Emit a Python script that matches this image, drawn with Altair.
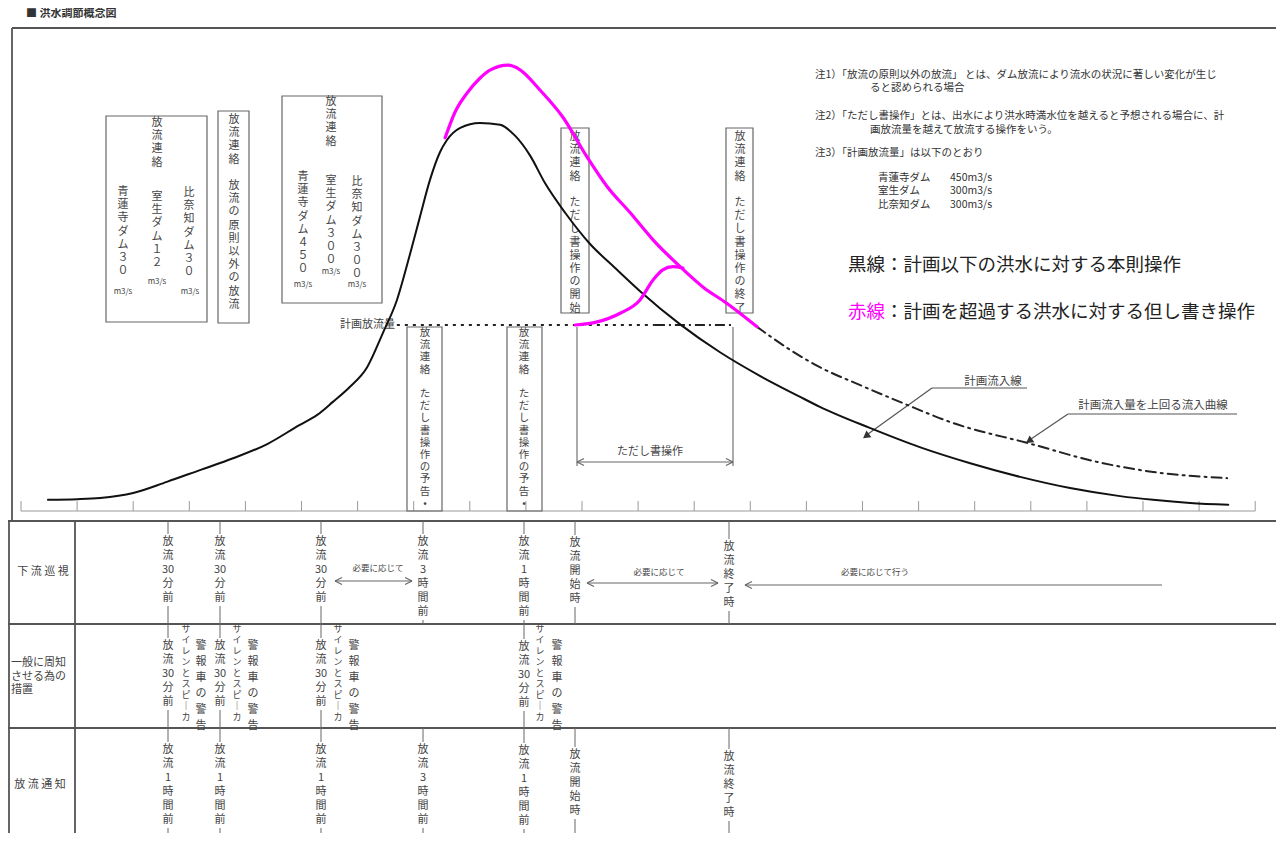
import re
import altair as alt
import pandas as pd

FONT = "Noto Sans CJK JP"
W, H = 1268, 825
INK = "#333333"
LINE = "#555555"
MAGENTA = "#ff00ff"

# ---------------- hydrograph data: time [h] and discharge [m3/s] ----------------
plan_t = [0.48, 1.0, 1.41, 2.0, 2.6, 3.19, 3.78, 4.39, 4.97, 5.28, 5.56, 5.86, 6.17, 6.45, 6.70,
          6.93, 7.11, 7.29, 7.47, 7.59, 7.83, 8.18, 8.54, 8.81, 9.07, 9.34, 9.70, 10.14, 10.59,
          11.03, 11.75, 12.46, 13.17, 13.89, 14.24, 15.13, 16.02, 16.92, 17.81, 18.70, 19.59,
          20.18, 20.84, 21.52]
plan_q = [18, 19, 21, 29, 47, 66, 85, 108, 139, 155, 176, 200, 232, 287, 340,
          413, 474, 534, 579, 598, 618, 626, 623, 605, 574, 529, 481, 431, 392,
          355, 301, 256, 218, 184, 168, 134, 103, 77, 55, 37, 24,
          18, 13, 10]
over_t = [7.56, 7.74, 7.95, 8.18, 8.36, 8.68, 8.89, 9.25, 9.66, 10.09, 10.45, 10.86, 11.27,
          11.75, 12.16, 12.58, 13.12]
over_q = [602, 644, 674, 698, 711, 719, 712, 679, 635, 571, 523, 481, 437, 394, 361, 335, 297]
ext_t = [13.12, 13.71, 14.24, 14.96, 15.72, 16.61, 17.93, 19.29, 20.18, 21.50]
ext_q = [297, 260, 232, 203, 174, 142, 110, 77, 63, 53]
hump_t = [9.88, 10.27, 10.68, 11.03, 11.27, 11.44, 11.62, 11.80]
hump_q = [300, 305, 319, 340, 373, 389, 394, 392]
plan_release_q = 300
plan_release_t = [6.70, 11.30, 12.69]  # start, dotted -> dash-dot, end
time_ticks = list(range(0, 23))

# ---------------- diagram text ----------------
title_text = "■ 洪水調節概念図"
notes = [
    (815, 75, "注1）「放流の原則以外の放流」 とは、ダム放流により流水の状況に著しい変化が生じ"),
    (870, 88, "ると認められる場合"),
    (815, 116, "注2）「ただし書操作」とは、出水により洪水時満水位を越えると予想される場合に、計"),
    (870, 130, "画放流量を越えて放流する操作をいう。"),
    (815, 153, "注3）「計画放流量」は以下のとおり"),
    (878, 178, "青蓮寺ダム"), (950, 178, "450m3/s"),
    (878, 191, "室生ダム"), (950, 191, "300m3/s"),
    (878, 205, "比奈知ダム"), (950, 205, "300m3/s"),
]
legend_black = "黒線：計画以下の洪水に対する本則操作"
legend_red_key = "赤線"
legend_red = "：計画を超過する洪水に対する但し書き操作"

boxes = [  # x, x2, y, y2
    (106, 207, 116, 322), (218, 249, 111, 323), (282, 382, 96, 303),
    (561, 589, 128, 313), (726, 753, 128, 313),
    (407, 442, 327, 511), (507, 542, 327, 511),
]
box_cols = [  # x, y of first glyph, text
    (157, 123, "放流連絡"),
    (123, 192, "青蓮寺ダム３０"),
    (157, 197, "室生ダム１２"),
    (189, 193, "比奈知ダム３０"),
    (234, 120, "放流連絡　放流の原則以外の放流"),
    (331, 102, "放流連絡"),
    (303, 177, "青蓮寺ダム４５０"),
    (331, 181, "室生ダム３００"),
    (357, 182, "比奈知ダム３００"),
    (575, 137, "放流連絡　ただし書操作の開始"),
    (740, 137, "放流連絡　ただし書操作の終了"),
]
notice_cols = [
    (425, 333, "放流連絡　ただし書操作の予告•"),
    (524, 333, "放流連絡　ただし書操作の予告•"),
]
unit_labels = [(123, 292), (157, 282), (190, 292), (303, 285), (331, 272), (357, 285)]

table_rows = [(521, 624), (624, 728), (728, 836)]
row_labels = [(43, 572, "下 流 巡 視"), (40, 785, "放 流 通 知")]
row_label_multi = (11, 663, "一般に周知\nさせる為の\n措置")
table_cells = [  # row, x, y of first glyph, text
    (0, 168, 542, "放流30分前"), (0, 220, 542, "放流30分前"), (0, 321, 542, "放流30分前"),
    (0, 423, 542, "放流3時間前"), (0, 524, 542, "放流1時間前"), (0, 575, 543, "放流開始時"),
    (0, 729, 547, "放流終了時"),
    (1, 168, 646, "放流30分前"), (1, 220, 646, "放流30分前"), (1, 321, 646, "放流30分前"),
    (1, 524, 647, "放流30分前"),
    (2, 168, 750, "放流1時間前"), (2, 220, 750, "放流1時間前"), (2, 321, 750, "放流1時間前"),
    (2, 423, 750, "放流3時間前"), (2, 524, 751, "放流1時間前"), (2, 575, 755, "放流開始時"),
    (2, 729, 757, "放流終了時"),
]
siren_cols = [(186, 629), (237, 629), (338, 629), (540, 629)]
siren_text = "サイレンとスピーカ"
warn_cols = [(201, 646), (253, 646), (354, 646), (557, 646)]
warn_text = "警報車の警告"
need_labels = [(378, 568, "必要に応じて"), (659, 572, "必要に応じて"), (875, 572, "必要に応じて行う")]

# ---------------- scales ----------------
CX = alt.Scale(domain=[8, 1276], nice=False, zero=False)
CY = alt.Scale(domain=[8, 833], reverse=True, nice=False, zero=False)
TX = alt.Scale(domain=[-0.2317, 22.3708], nice=False, zero=False)
QY = alt.Scale(domain=[-519.35, 811.29], nice=False, zero=False)


def cx(f):
    return alt.X(f"{f}:Q", scale=CX, axis=None)


def cy(f):
    return alt.Y(f"{f}:Q", scale=CY, axis=None)


def vtokens(s):
    return [("｜" if t == "ー" else t) for t in re.findall(r"[0-9]+|.", s)]


def vtext_layer(items, size, lh, color=INK):
    rows = []
    for x, y0, s in items:
        toks = vtokens(s)
        start = 0
        seg = []
        for i, tok in enumerate(toks + ["　"]):
            if tok == "　":
                if seg:
                    rows.append({"x": x, "y": y0 + start * lh, "text": "\n".join(seg)})
                seg = []
                start = i + 1
            else:
                seg.append(tok)
    return alt.Chart(pd.DataFrame(rows)).mark_text(
        font=FONT, fontSize=size, color=color, align="center", baseline="middle",
        lineBreak="\n", lineHeight=lh).encode(x=cx("x"), y=cy("y"), text="text:N")


def text_layer(items, size, color=INK, align="left", weight="normal", lh=None):
    df = pd.DataFrame(items, columns=["x", "y", "text"])
    kw = dict(font=FONT, fontSize=size, color=color, align=align, baseline="middle",
              fontWeight=weight)
    if lh:
        kw.update(lineBreak="\n", lineHeight=lh)
    return alt.Chart(df).mark_text(**kw).encode(x=cx("x"), y=cy("y"), text="text:N")


def seg_layer(segs, color, width, dash=None):
    df = pd.DataFrame(segs, columns=["x", "y", "x2", "y2"])
    kw = dict(color=color, strokeWidth=width)
    if dash:
        kw["strokeDash"] = dash
    return alt.Chart(df).mark_rule(**kw).encode(x=cx("x"), y=cy("y"), x2="x2:Q", y2="y2:Q")


def chevron(x, y, d, L=7, h=3.5):
    return [(x, y, x - d * L, y - h), (x, y, x - d * L, y + h)]


def curve(t, q, color, width, dash=None):
    df = pd.DataFrame({"t": t, "q": q})
    kw = dict(color=color, strokeWidth=width, interpolate="monotone", strokeCap="round")
    if dash:
        kw["strokeDash"] = dash
    return alt.Chart(df).mark_line(**kw).encode(
        x=alt.X("t:Q", scale=TX, axis=None), y=alt.Y("q:Q", scale=QY, axis=None))


layers = []

# frame and table lines
frame = [(12, 28, 1280, 28), (12, 28, 12, 521), (1279, 28, 1279, 838)]
for y in [521, 624, 728, 836]:
    frame.append((8, y, 1279, y))
frame += [(9, 521, 9, 836), (75, 521, 75, 836)]
layers.append(seg_layer(frame, LINE, 1.8))

# axis baseline and ticks (flow space)
tick_df = pd.DataFrame({"t": time_ticks, "q0": 0, "q1": 16})
layers.append(alt.Chart(tick_df).mark_rule(color="#999999", strokeWidth=1).encode(
    x=alt.X("t:Q", scale=TX, axis=None), y=alt.Y("q0:Q", scale=QY, axis=None), y2="q1:Q"))
base_df = pd.DataFrame({"t": [time_ticks[0]], "t2": [time_ticks[-1]], "q": [0]})
layers.append(alt.Chart(base_df).mark_rule(color="#999999", strokeWidth=1).encode(
    x=alt.X("t:Q", scale=TX, axis=None), x2="t2:Q", y=alt.Y("q:Q", scale=QY, axis=None)))

# boxes
box_df = pd.DataFrame(boxes, columns=["x", "x2", "y", "y2"])
layers.append(alt.Chart(box_df).mark_rect(fill="white", fillOpacity=0, stroke="#666666",
                                          strokeWidth=1.2).encode(
    x=cx("x"), x2="x2:Q", y=cy("y"), y2="y2:Q"))

# vertical texts in boxes
layers.append(vtext_layer(box_cols, 11, 13.2, "#444444"))
layers.append(vtext_layer(notice_cols, 10.5, 12.2, "#444444"))
layers.append(text_layer([(x, y, "m3/s") for x, y in unit_labels], 8, "#444444", "center"))

# table connectors
conn = []
for r, x, y0, s in table_cells:
    top, bot = table_rows[r]
    n = len(vtokens(s))
    conn.append((x, top, x, y0 - 8))
    conn.append((x, y0 + (n - 1) * 14 + 8, x, bot))
layers.append(seg_layer(conn, "#666666", 1))

# table texts
layers.append(vtext_layer([(x, y, s) for _, x, y, s in table_cells], 11, 14, "#444444"))
layers.append(vtext_layer([(x, y, siren_text) for x, y in siren_cols], 9, 11, "#444444"))
layers.append(vtext_layer([(x, y, warn_text) for x, y in warn_cols], 11, 16, "#444444"))
layers.append(text_layer(row_labels, 11, "#444444", "center"))
rx, ry, rt = row_label_multi
layers.append(text_layer([(rx, ry, rt)], 11, "#444444", "left", lh=13.5))
layers.append(text_layer(need_labels, 8.5, "#444444", "center"))

# arrows in table and bracket
arrows = [(335, 581, 412, 581)] + chevron(335, 581, -1) + chevron(412, 581, 1)
arrows += [(587, 583, 718, 583)] + chevron(587, 583, -1) + chevron(718, 583, 1)
arrows += [(745, 585, 1162, 585)] + chevron(745, 585, -1)
arrows += [(577, 327, 577, 466), (733, 327, 733, 466), (577, 462, 733, 462)]
arrows += chevron(577, 462, -1) + chevron(733, 462, 1)
layers.append(seg_layer(arrows, "#666666", 1.1))
layers.append(text_layer([(650, 452, "ただし書操作")], 11, "#444444", "center"))
layers.append(text_layer([(395, 325, "計画放流量")], 11, "#444444", "right"))

# leader lines for curve labels
leaders = [(932, 388, 1027, 388), (932, 388, 868, 434), (1068, 414, 1237, 414), (1068, 414, 1031, 439)]
layers.append(seg_layer(leaders, "#555555", 1.2))
head_df = pd.DataFrame({"x": [866, 1029], "y": [436, 441], "a": [234, 235]})
layers.append(alt.Chart(head_df).mark_point(shape="triangle-up", filled=True, size=70,
                                            color="#333333", opacity=1).encode(
    x=cx("x"), y=cy("y"), angle=alt.Angle("a:Q", scale=None)))
layers.append(text_layer([(993, 382, "計画流入線"), (1153, 406, "計画流入量を上回る流入曲線")],
                         11.5, "#444444", "center"))

# notes and legend
layers.append(text_layer([(26, 14, title_text)], 11, INK, "left", "bold"))
layers.append(text_layer(notes, 10.5, INK, "left"))
layers.append(text_layer([(848, 265, legend_black), (885, 312, legend_red)], 18.5, "#222222", "left"))
layers.append(text_layer([(848, 312, legend_red_key)], 18.5, MAGENTA, "left"))

# curves
pr_df = pd.DataFrame({"t": [plan_release_t[0]], "t2": [plan_release_t[1]], "q": [plan_release_q]})
layers.append(alt.Chart(pr_df).mark_rule(color="#222222", strokeWidth=2, strokeDash=[3, 5]).encode(
    x=alt.X("t:Q", scale=TX, axis=None), x2="t2:Q", y=alt.Y("q:Q", scale=QY, axis=None)))
pr2_df = pd.DataFrame({"t": [plan_release_t[1]], "t2": [plan_release_t[2]], "q": [plan_release_q]})
layers.append(alt.Chart(pr2_df).mark_rule(color="#222222", strokeWidth=2, strokeDash=[10, 4, 2, 4]).encode(
    x=alt.X("t:Q", scale=TX, axis=None), x2="t2:Q", y=alt.Y("q:Q", scale=QY, axis=None)))
layers.append(curve(plan_t, plan_q, "#111111", 2))
layers.append(curve(ext_t, ext_q, "#222222", 2, [10, 5, 2, 5]))
layers.append(curve(over_t, over_q, MAGENTA, 3.2))
layers.append(curve(hump_t, hump_q, MAGENTA, 3.2))

chart = alt.layer(*layers).resolve_scale(x="independent", y="independent").properties(
    width=W, height=H, padding=0, autosize=alt.AutoSizeParams(type="none"),
    background="white").configure_view(strokeWidth=0)

chart.save("out.html", embed_options={"renderer": "svg", "actions": False})
